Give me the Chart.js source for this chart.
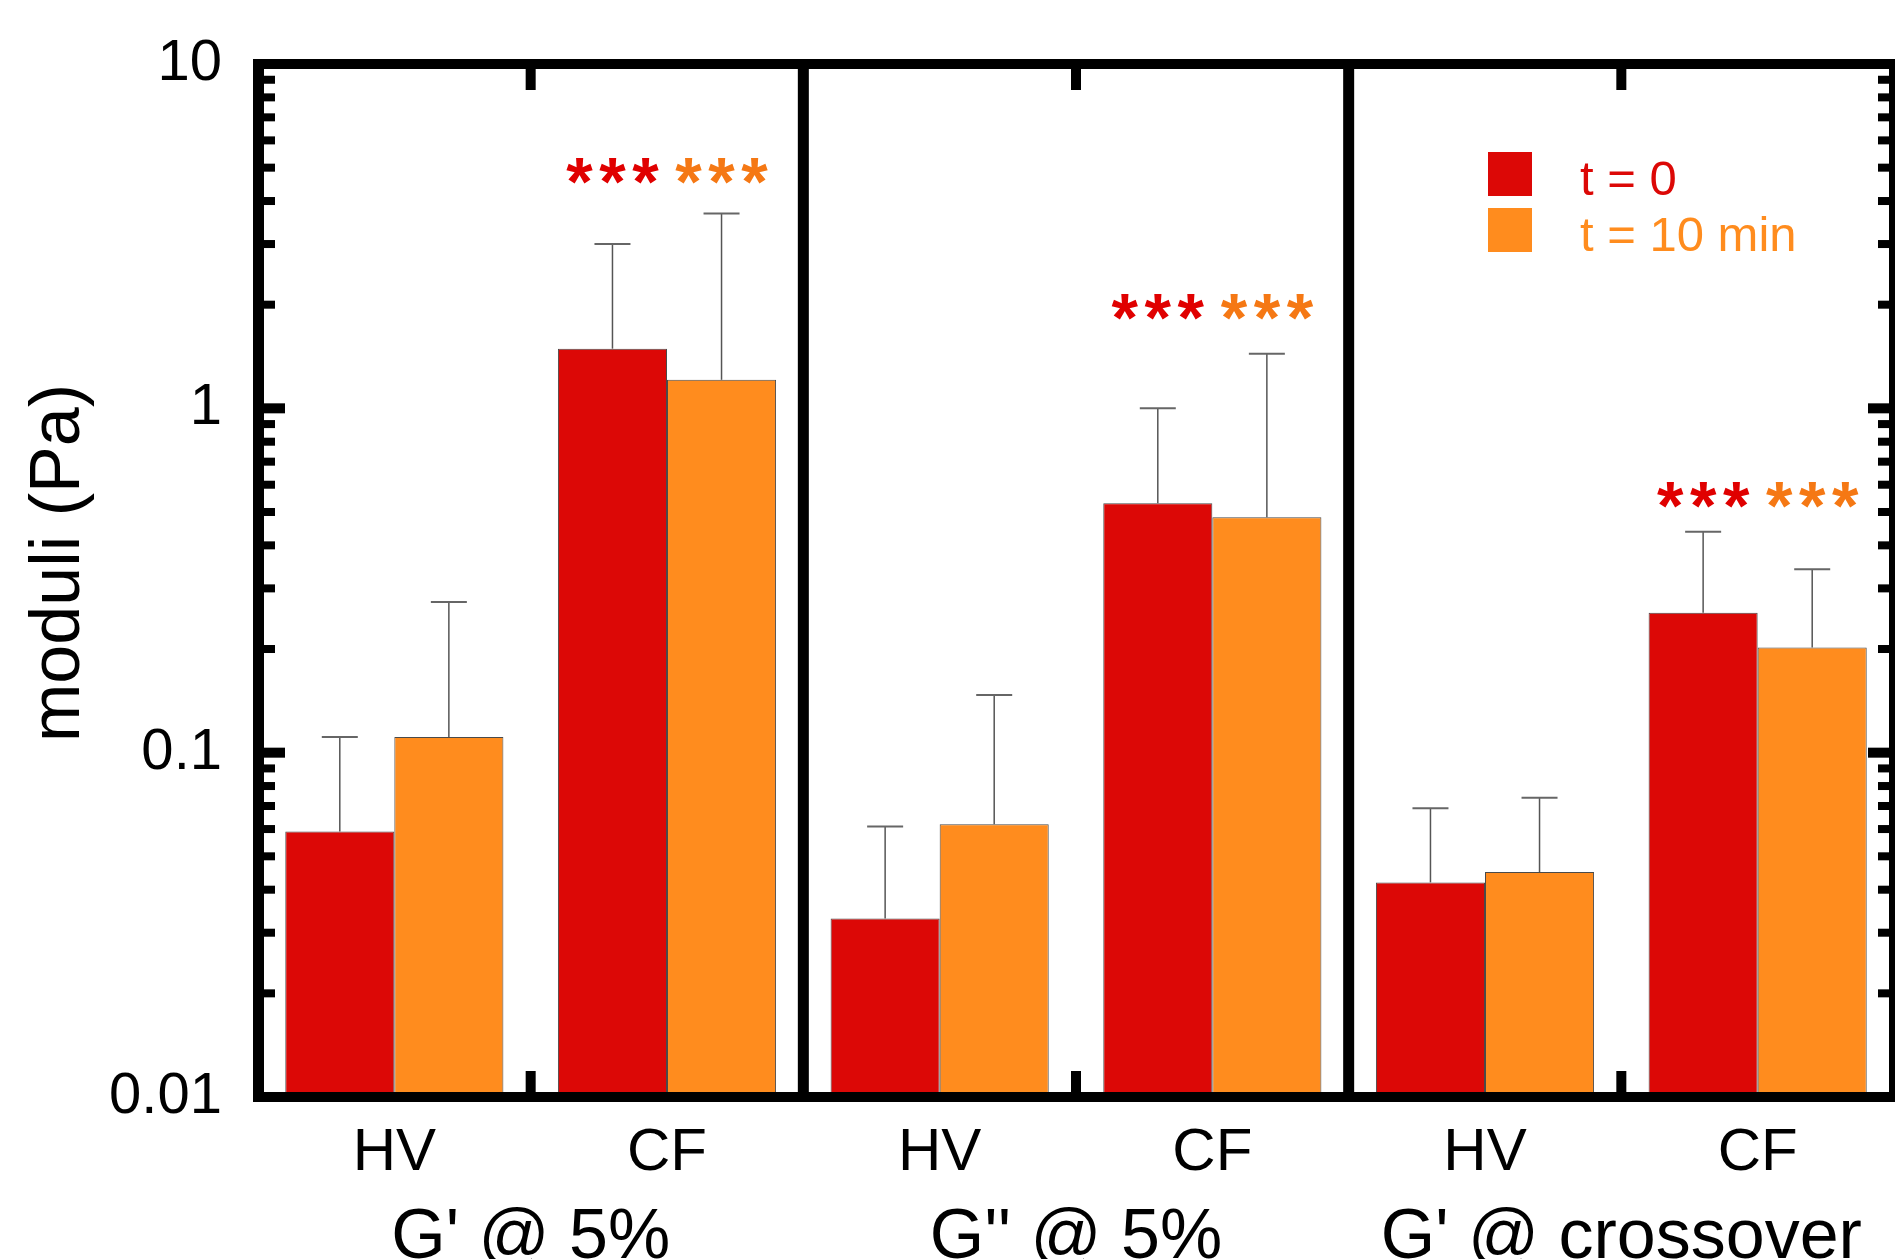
<!DOCTYPE html>
<html>
<head>
<meta charset="utf-8">
<script src="https://cdn.jsdelivr.net/npm/chart.js@4.4.1/dist/chart.umd.min.js"></script>
<style>
html,body{margin:0;padding:0;background:#fff;overflow:hidden}
canvas{display:block}
</style>
</head>
<body>
<canvas id="c" width="1895" height="1259"></canvas>
<script>
// ---------- data ----------
const categories = ['HV', 'CF', 'HV', 'CF', 'HV', 'CF'];
const groupLabels = ["G' @ 5%", "G'' @ 5%", "G' @ crossover"];
const seriesLabels = ['t = 0', 't = 10 min'];
const yAxisTitle = 'moduli (Pa)';
const t0Values   = [0.059, 1.49, 0.033, 0.53, 0.042, 0.255];
const t0Errors   = [0.052, 1.51, 0.028, 0.47, 0.027, 0.183];
const t10Values  = [0.111, 1.21, 0.062, 0.483, 0.045, 0.202];
const t10Errors  = [0.163, 2.47, 0.085, 0.957, 0.029, 0.139];
const t0Significance  = ['', '***', '', '***', '', '***'];
const t10Significance = ['', '***', '', '***', '', '***'];
const significanceLevels = [null, 4.9, null, 1.97, null, 0.56];
const yTickValues = [0.01, 0.1, 1, 10];
const yTickLabels = ['0.01', '0.1', '1', '10'];

// ---------- style ----------
const FONT = '"Liberation Sans", Arial, Helvetica, sans-serif';
const RED = '#dc0806';
const ORANGE = '#ff8c1e';
const STAR_COLORS = ['#e00000', '#f57814'];
const LEGEND_TEXT = ['#dc0806', '#ff8c1e'];

const decorPlugin = {
  id: 'decor',
  afterDatasetsDraw(chart) {
    const {ctx, chartArea: a, scales: {x, y}} = chart;
    ctx.save();
    // error bars (upper whiskers)
    chart.data.datasets.forEach((ds, di) => {
      const meta = chart.getDatasetMeta(di);
      meta.data.forEach((bar, i) => {
        const v = ds.data[i], e = ds.errors[i];
        const yBar = y.getPixelForValue(v);
        const yTop = y.getPixelForValue(v + e);
        ctx.strokeStyle = '#555';
        ctx.lineWidth = 1.5;
        ctx.beginPath();
        ctx.moveTo(bar.x, yBar);
        ctx.lineTo(bar.x, yTop);
        ctx.stroke();
        ctx.strokeStyle = '#666';
        ctx.lineWidth = 2;
        ctx.beginPath();
        ctx.moveTo(bar.x - 18, yTop);
        ctx.lineTo(bar.x + 18, yTop);
        ctx.stroke();
      });
    });

    // frame
    ctx.fillStyle = '#000';
    const T = 10, L = 11;
    const left = a.left + 0.5, right = a.right + 0.5;
    ctx.fillRect(left - L / 2, a.top - T / 2, right - left + L, T);          // top
    ctx.fillRect(left - L / 2, a.bottom - T / 2, right - left + L, T);       // bottom
    ctx.fillRect(left - L / 2, a.top - T / 2, L, a.bottom - a.top + T);      // left
    ctx.fillRect(right - L / 2, a.top - T / 2, L, a.bottom - a.top + T);     // right

    // panel dividers and category ticks
    const n = categories.length;
    for (let k = 1; k < n; k++) {
      const bx = x.getPixelForValue(k - 0.5);
      if (k % 2 === 0) {
        ctx.fillRect(bx - L / 2, a.top - T / 2, L, a.bottom - a.top + T);
      } else {
        ctx.fillRect(bx - 5, a.top + T / 2, 10, 21);
        ctx.fillRect(bx - 5, a.bottom - T / 2 - 21, 10, 21);
      }
    }

    // log ticks on left and right
    const inL = left + L / 2, inR = right - L / 2;
    yTickValues.forEach((d, idx) => {
      const py = y.getPixelForValue(d);
      ctx.fillRect(inL, py - 5, 21, 10);
      ctx.fillRect(inR - 21, py - 5, 21, 10);
      if (idx < yTickValues.length - 1) {
        for (let m = 2; m <= 9; m++) {
          const pm = y.getPixelForValue(d * m);
          ctx.fillRect(inL, pm - 4, 11, 8);
          ctx.fillRect(inR - 11, pm - 4, 11, 8);
        }
      }
    });
    ctx.restore();
  },
  afterDraw(chart) {
    const {ctx, chartArea: a, scales: {y}} = chart;
    ctx.save();
    // y-axis title
    ctx.save();
    ctx.translate(60, 563);
    ctx.rotate(-Math.PI / 2);
    ctx.font = '70px ' + FONT;
    ctx.fillStyle = '#000';
    ctx.textAlign = 'center';
    ctx.textBaseline = 'middle';
    ctx.fillText(yAxisTitle, 0, 0);
    ctx.restore();

    // significance stars
    ctx.font = 'bold 68px ' + FONT;
    ctx.textAlign = 'center';
    ctx.textBaseline = 'alphabetic';
    const m = ctx.measureText('*');
    const asc = m.actualBoundingBoxAscent, desc = m.actualBoundingBoxDescent;
    chart.data.datasets.forEach((ds, di) => {
      const meta = chart.getDatasetMeta(di);
      meta.data.forEach((bar, i) => {
        const txt = ds.significance[i];
        if (!txt) return;
        const yc = y.getPixelForValue(significanceLevels[i]);
        const base = yc + (asc - desc) / 2;
        ctx.fillStyle = STAR_COLORS[di];
        const chars = txt.split('');
        const pitch = 33;
        chars.forEach((ch, j) => {
          const cx = bar.x + (j - (chars.length - 1) / 2) * pitch;
          ctx.fillText(ch, cx, base);
        });
      });
    });
    // legend
    ctx.font = '49px ' + FONT;
    ctx.textAlign = 'left';
    ctx.textBaseline = 'middle';
    chart.data.datasets.forEach((ds, di) => {
      const top = 152 + di * 56;
      ctx.fillStyle = ds.backgroundColor;
      ctx.fillRect(1488, top, 44, 44);
      ctx.fillStyle = LEGEND_TEXT[di];
      ctx.fillText(ds.label, 1580, top + 29);
    });
    ctx.restore();
  }
};

new Chart(document.getElementById('c'), {
  type: 'bar',
  data: {
    labels: categories,
    datasets: [
      {
        label: seriesLabels[0],
        data: t0Values,
        errors: t0Errors,
        significance: t0Significance,
        backgroundColor: RED,
        borderColor: '#4a4a4a',
        borderWidth: 1,
        borderSkipped: false,
        categoryPercentage: 0.8,
        barPercentage: 1.0
      },
      {
        label: seriesLabels[1],
        data: t10Values,
        errors: t10Errors,
        significance: t10Significance,
        backgroundColor: ORANGE,
        borderColor: '#4a4a4a',
        borderWidth: 1,
        borderSkipped: false,
        categoryPercentage: 0.8,
        barPercentage: 1.0
      }
    ]
  },
  options: {
    responsive: false,
    animation: false,
    events: [],
    layout: {padding: {top: 64, right: 1, left: 0, bottom: 0}},
    plugins: {legend: {display: false}, tooltip: {enabled: false}},
    scales: {
      y: {
        type: 'logarithmic',
        min: 0.01,
        max: 10,
        grid: {display: false, drawTicks: true, tickLength: 36},
        border: {display: false},
        afterBuildTicks(scale) {
          scale.ticks = yTickValues.map(v => ({value: v}));
        },
        afterFit(scale) { scale.width = 258; },
        ticks: {
          padding: 0,
          color: '#000',
          font: {family: FONT, size: 58},
          callback: (v) => {
            const i = yTickValues.indexOf(v);
            return i >= 0 ? yTickLabels[i] : '';
          }
        },
        title: {display: false}
      },
      x: {
        position: 'bottom',
        weight: 0,
        offset: true,
        grid: {display: false, drawTicks: false},
        border: {display: false},
        afterFit(scale) { scale.height = 90; },
        ticks: {
          autoSkip: false,
          maxRotation: 0,
          padding: 20,
          color: '#000',
          font: {family: FONT, size: 60}
        }
      },
      x2: {
        type: 'category',
        labels: groupLabels,
        position: 'bottom',
        weight: 1,
        offset: true,
        grid: {display: false, drawTicks: false},
        border: {display: false},
        afterFit(scale) { scale.height = 72; },
        ticks: {
          autoSkip: false,
          maxRotation: 0,
          padding: 10,
          color: '#000',
          font: {family: FONT, size: 70}
        }
      }
    }
  },
  plugins: [decorPlugin]
});
</script>
</body>
</html>
